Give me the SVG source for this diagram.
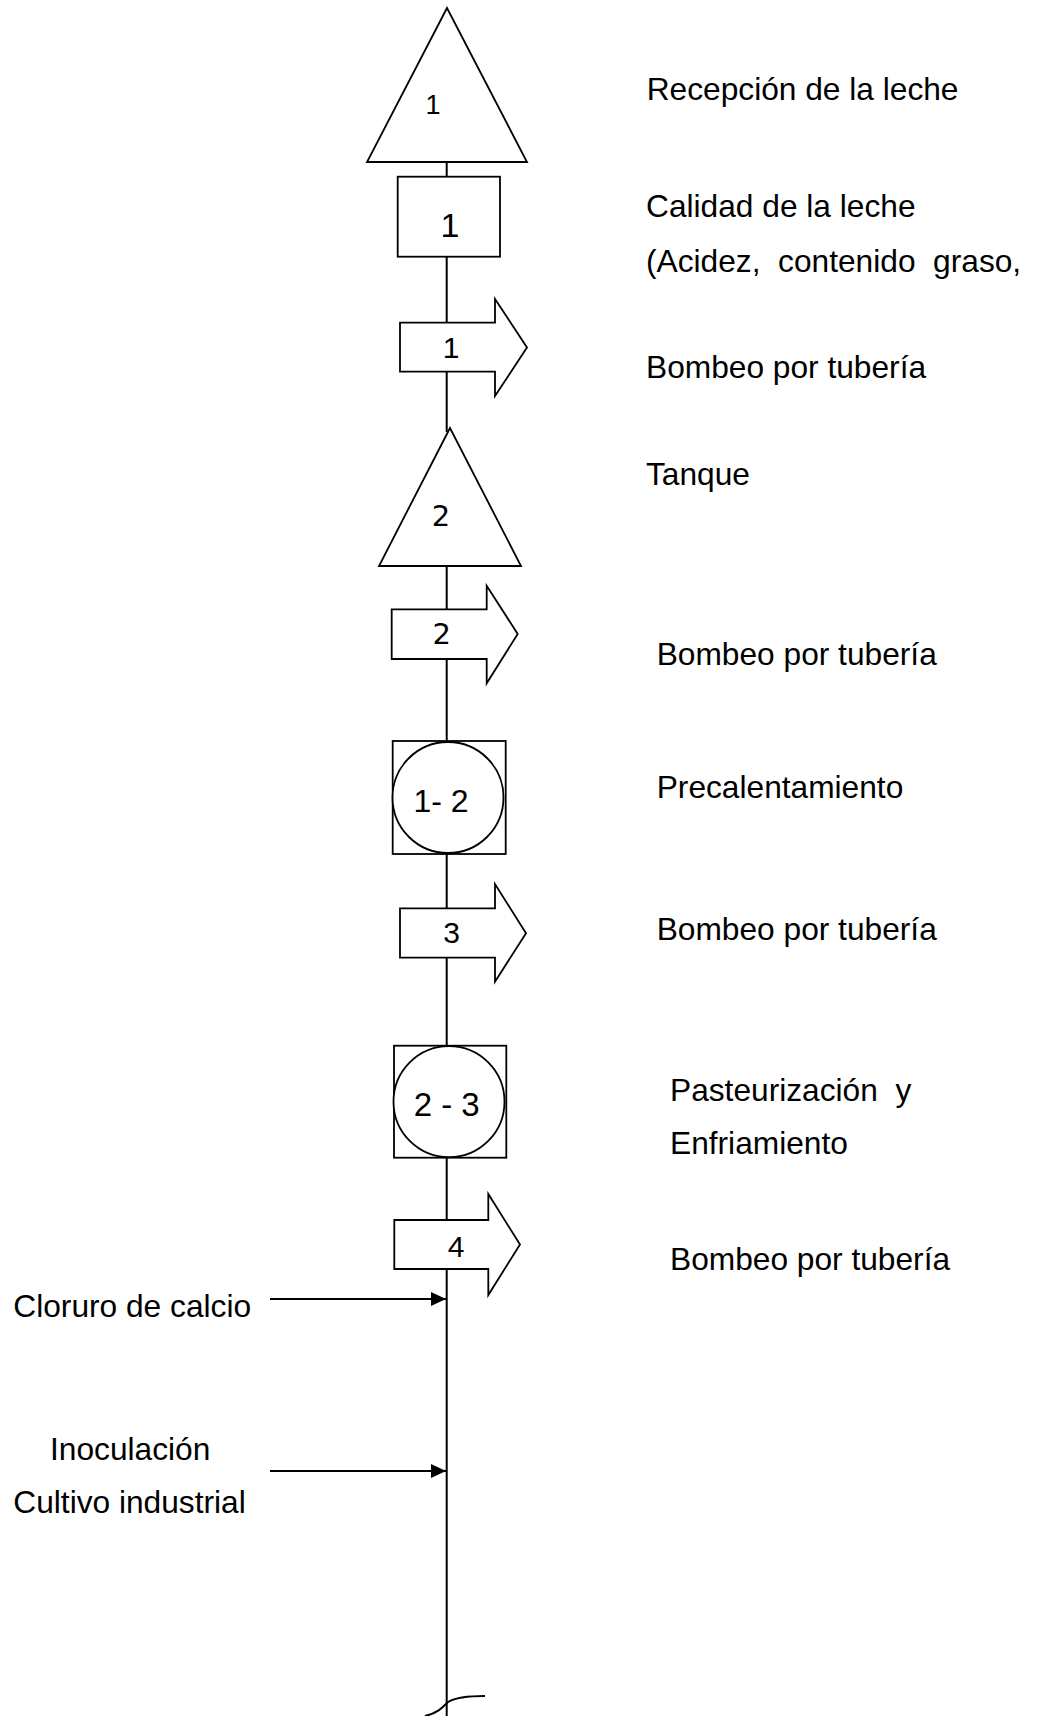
<svg xmlns="http://www.w3.org/2000/svg" width="1040" height="1716" viewBox="0 0 1040 1716">
<style>
.sh{fill:#fff;stroke:#000;stroke-width:1.8}
.ln{fill:none;stroke:#000;stroke-width:2}
.t{font-family:"Liberation Sans",Arial,sans-serif;font-size:31.7px;fill:#000}
.n{font-family:"Liberation Sans",Arial,sans-serif;fill:#000;text-anchor:middle}
.d{font-family:"DejaVu Sans",Verdana,sans-serif;fill:#000;text-anchor:middle}
</style>
<defs>
<marker id="ah" markerUnits="userSpaceOnUse" markerWidth="15" markerHeight="14" refX="15" refY="7" orient="auto">
<path d="M0,0 L15,7 L0,14 z" fill="#000"/>
</marker>
</defs>
<rect width="1040" height="1716" fill="#fff"/>
<g id="connectors">
<line class="ln" x1="446.7" y1="162" x2="446.7" y2="176.7"/>
<line class="ln" x1="446.7" y1="256.7" x2="446.7" y2="322.7"/>
<line class="ln" x1="446.7" y1="371.7" x2="446.7" y2="432"/>
<line class="ln" x1="446.7" y1="566" x2="446.7" y2="609.3"/>
<line class="ln" x1="446.7" y1="659" x2="446.7" y2="741"/>
<line class="ln" x1="446.7" y1="854" x2="446.7" y2="908.3"/>
<line class="ln" x1="446.7" y1="957.7" x2="446.7" y2="1045.7"/>
<line class="ln" x1="446.7" y1="1157.7" x2="446.7" y2="1220"/>
<line class="ln" x1="446.7" y1="1269" x2="446.7" y2="1716"/>
<line class="ln" x1="270" y1="1299" x2="446" y2="1299" marker-end="url(#ah)"/>
<line class="ln" x1="270" y1="1471" x2="446" y2="1471" marker-end="url(#ah)"/>
<path class="ln" d="M425,1716 C438,1713 443,1707 448,1702 C456,1697 468,1696 485,1696"/>
</g>
<g id="n-recepcion">
<polygon class="sh" points="447,8 367,162 527,162"/>
<text class="n" x="433" y="114" font-size="27">1</text>
</g>
<g id="n-calidad">
<rect class="sh" x="397.7" y="176.7" width="102.3" height="80"/>
<text class="n" x="450" y="237" font-size="34">1</text>
</g>
<g id="n-bombeo1">
<polygon class="sh" points="400,322.7 495,322.7 495,299 527,347.5 495,396 495,371.7 400,371.7"/>
<text class="n" x="451" y="358" font-size="30">1</text>
</g>
<g id="n-tanque">
<polygon class="sh" points="450,428 379,566 521,566"/>
<text class="d" x="441" y="526" font-size="29">2</text>
</g>
<g id="n-bombeo2">
<polygon class="sh" points="391.7,609.3 486.7,609.3 486.7,585.7 517.7,634 486.7,683.3 486.7,659 391.7,659"/>
<text class="d" x="441.7" y="644" font-size="29">2</text>
</g>
<g id="n-precalentamiento">
<rect class="sh" x="392.7" y="741" width="113" height="113"/>
<circle class="sh" cx="448" cy="797.5" r="55.5"/>
<text class="n" x="441" y="812" font-size="32">1- 2</text>
</g>
<g id="n-bombeo3">
<polygon class="sh" points="400,908.3 495,908.3 495,884 526,933.3 495,981.7 495,957.7 400,957.7"/>
<text class="n" x="451.7" y="943" font-size="30">3</text>
</g>
<g id="n-pasteurizacion">
<rect class="sh" x="394" y="1045.7" width="112.3" height="112"/>
<circle class="sh" cx="449" cy="1101.7" r="55.5"/>
<text class="n" x="446.7" y="1116" font-size="33" xml:space="preserve">2 - 3</text>
</g>
<g id="n-bombeo4">
<polygon class="sh" points="394.3,1220 488.3,1220 488.3,1194 520,1244.5 488.3,1295 488.3,1269 394.3,1269"/>
<text class="n" x="456" y="1257" font-size="30">4</text>
</g>
<g id="labels">
<text class="t" x="646.7" y="100">Recepción de la leche</text>
<text class="t" x="646" y="216.7">Calidad de la leche</text>
<text class="t" x="646" y="271.7" xml:space="preserve">(Acidez,  contenido  graso,</text>
<text class="t" x="646" y="378.3">Bombeo por tubería</text>
<text class="t" x="646" y="485">Tanque</text>
<text class="t" x="656.7" y="665">Bombeo por tubería</text>
<text class="t" x="656.7" y="798">Precalentamiento</text>
<text class="t" x="656.7" y="939.6">Bombeo por tubería</text>
<text class="t" x="670" y="1101" xml:space="preserve">Pasteurización  y</text>
<text class="t" x="670" y="1154">Enfriamiento</text>
<text class="t" x="670" y="1270">Bombeo por tubería</text>
<text class="t" x="13.3" y="1317">Cloruro de calcio</text>
<text class="t" x="50" y="1460">Inoculación</text>
<text class="t" x="13.3" y="1513">Cultivo industrial</text>
</g>
</svg>
